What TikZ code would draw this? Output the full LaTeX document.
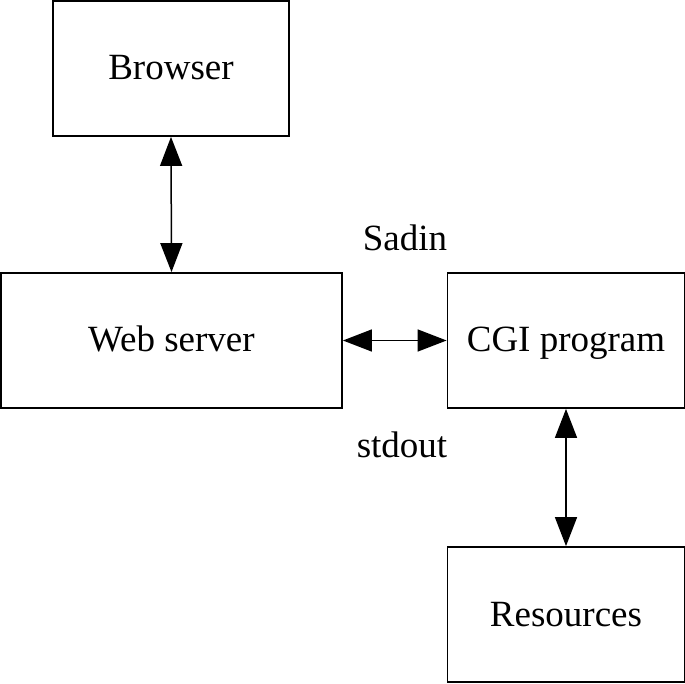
\documentclass[tikz,border=0pt]{standalone}
\usepackage{fontspec}
\setmainfont{Liberation Serif}
\usetikzlibrary{arrows.meta}
\begin{document}
\begin{tikzpicture}[x=1pt,y=-1pt,
  box/.style={draw,line width=1.8pt,inner sep=0pt,text height=25pt,text depth=2pt},
  lbl/.style={font=\fontsize{37}{40}\selectfont},
  link/.style={line width=1.5pt,{Triangle[length=29pt,width=22pt]}-{Triangle[length=29pt,width=22pt]}}]
\useasboundingbox (0,0) rectangle (685,684);
\node[box,minimum width=236pt,minimum height=135pt,lbl] (browser) at (171,68.5) {Browser};
\node[box,minimum width=341pt,minimum height=135pt,lbl] (web) at (171.5,340.5) {Web server};
\node[box,minimum width=237pt,minimum height=135pt,lbl] (cgi) at (566,340.5) {CGI program};
\node[box,minimum width=237pt,minimum height=135pt,lbl] (res) at (566,614.5) {Resources};
\node[lbl] (sadin) at (405,238) {Sadin};
\node[lbl] (stdout) at (402,445) {stdout};
\draw[link] (browser.south) -- (web.north);
\draw[link] (web.east) -- (cgi.west);
\draw[link] (cgi.south) -- (res.north);
\end{tikzpicture}
\end{document}
